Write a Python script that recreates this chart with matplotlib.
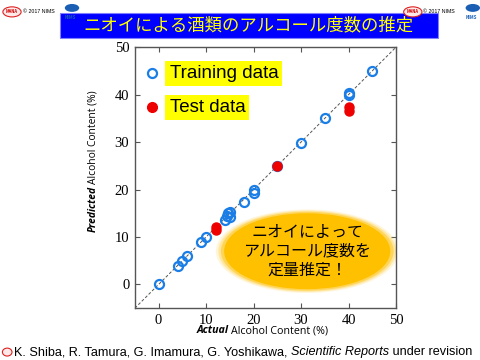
import matplotlib.pyplot as plt
from matplotlib.patches import Ellipse, Rectangle

plt.rcParams['font.family'] = ['Noto Sans CJK JP', 'DejaVu Sans']

# training data (actual, predicted)
train_actual = [0, 4, 5, 6, 9, 10, 14, 14.3, 14.6, 15, 15, 18, 20, 20, 25, 30, 35, 40, 40, 45]
train_pred = [0, 3.8, 4.9, 6, 8.9, 10, 13.6, 14.4, 15, 14.2, 15.3, 17.4, 19.3, 20, 25, 29.9, 35, 40, 40.3, 44.9]
# test data
test_actual = [12, 12, 25, 40, 40]
test_pred = [11.4, 12.2, 25, 36.5, 37.3]

title = 'ニオイによる酒類のアルコール度数の推定'
bubble = 'ニオイによって\nアルコール度数を\n定量推定！'
ticks = [0, 10, 20, 30, 40, 50]

fig = plt.figure(figsize=(4.8, 3.6), dpi=100)
ax = fig.add_axes([0.281, 0.144, 0.544, 0.725])


def chain(parts, x, y, rotation=0, gap=0.0, **kw):
    # place text pieces one after another
    fig.canvas.draw()
    r = fig.canvas.get_renderer()
    pos = x if rotation == 0 else y
    for s, extra in parts:
        if rotation == 0:
            t = fig.text(pos, y, s, ha='left', va='center', **kw, **extra)
        else:
            t = fig.text(x, pos, s, rotation=90, ha='center', va='bottom', **kw, **extra)
        bb = t.get_window_extent(r).transformed(fig.transFigure.inverted())
        pos = (bb.x1 if rotation == 0 else bb.y1) + gap


# diagonal
ax.plot([-5, 50], [-5, 50], ls=(0, (3, 2)), color='#555555', lw=0.7, zorder=1)

ax.plot(train_actual, train_pred, 'o', ms=6.5, mfc='none', mec='#1a7ee6', mew=1.6, zorder=3)
ax.plot(test_actual, test_pred, 'o', ms=6.5, mfc='#ee0000', mec='#ee0000', zorder=4)

ax.set_xlim(-5, 50)
ax.set_ylim(-5, 50)
ax.set_xticks(ticks)
ax.set_yticks(ticks)
ax.tick_params(direction='in', length=3.5, top=True, right=True, color='#555555',
               labelsize=10.5, pad=4)
for lab in ax.get_xticklabels() + ax.get_yticklabels():
    lab.set_fontfamily('Liberation Serif')
for s in ax.spines.values():
    s.set_color('#555555')
    s.set_linewidth(1.0)

# legend
ax.plot([-1.3], [44.5], 'o', ms=6.5, mfc='none', mec='#1a7ee6', mew=1.6, clip_on=False)
ax.plot([-1.3], [37.3], 'o', ms=7, mfc='#ee0000', mec='#ee0000', clip_on=False)
ax.text(2.3, 44.5, 'Training data', fontsize=13.5, va='center', family='Liberation Sans',
        bbox=dict(boxstyle='square,pad=0.22', fc='#ffff00', ec='none'))
ax.text(2.3, 37.3, 'Test data', fontsize=13.5, va='center', family='Liberation Sans',
        bbox=dict(boxstyle='square,pad=0.22', fc='#ffff00', ec='none'))

# orange bubble with soft edge
for w, a in [(1.1, 0.15), (1.07, 0.25), (1.04, 0.45), (1.0, 1.0)]:
    ax.add_patch(Ellipse((31.3, 7.0), 35 * w, 16 * w, fc='#ffc000', ec='none',
                         alpha=a, zorder=2))
ax.text(31.3, 7.0, bubble, fontsize=11.5, ha='center', va='center',
        linespacing=1.15, zorder=5)

# title bar
fig.patches.append(Rectangle((0.125, 0.895), 0.787, 0.07, transform=fig.transFigure,
                             fc='#0000ff', ec='#8080ff', lw=0.8))
fig.text(0.518, 0.93, title, color='#ffff00', fontsize=12.5, ha='center', va='center')

# header logos
for x0 in [0.0, 0.835]:
    fig.patches.append(Ellipse((x0 + 0.025, 0.967), 0.038, 0.028, transform=fig.transFigure,
                               fc='#ffe8e8', ec='#dd2222', lw=0.8))
    fig.text(x0 + 0.025, 0.967, 'MANA', color='#cc0000', fontsize=3, ha='center',
             va='center', weight='bold')
    fig.text(x0 + 0.047, 0.967, '© 2017 NIMS', fontsize=3.8, ha='left', va='center',
             family='Liberation Sans')
    fig.patches.append(Ellipse((x0 + 0.15, 0.978), 0.03, 0.022, transform=fig.transFigure,
                               fc='#1a5fb4', ec='none'))
    fig.text(x0 + 0.147, 0.952, 'NIMS', fontsize=3.2, color='#1a5fb4', ha='center',
             va='center', weight='bold')

# axis labels
chain([('Actual', dict(weight='bold', style='italic')), ('Alcohol Content (%)', {})],
      0.41, 0.081, gap=0.005, family='Open Sans', fontsize=7.7)
chain([('Predicted', dict(weight='bold', style='italic')), ('Alcohol Content (%)', {})],
      0.194, 0.355, rotation=90, gap=0.007, family='Open Sans', fontsize=7.4)

# footer
fig.patches.append(Ellipse((0.015, 0.022), 0.02, 0.022, transform=fig.transFigure,
                           fc='#ffe8e8', ec='#dd2222', lw=0.8))
chain([('K. Shiba, R. Tamura, G. Imamura, G. Yoshikawa, ', {}),
       ('Scientific Reports', dict(style='italic')), (' under revision', {})],
      0.03, 0.022, family='Liberation Sans', fontsize=9.1)

fig.savefig('out.png', dpi=100)
